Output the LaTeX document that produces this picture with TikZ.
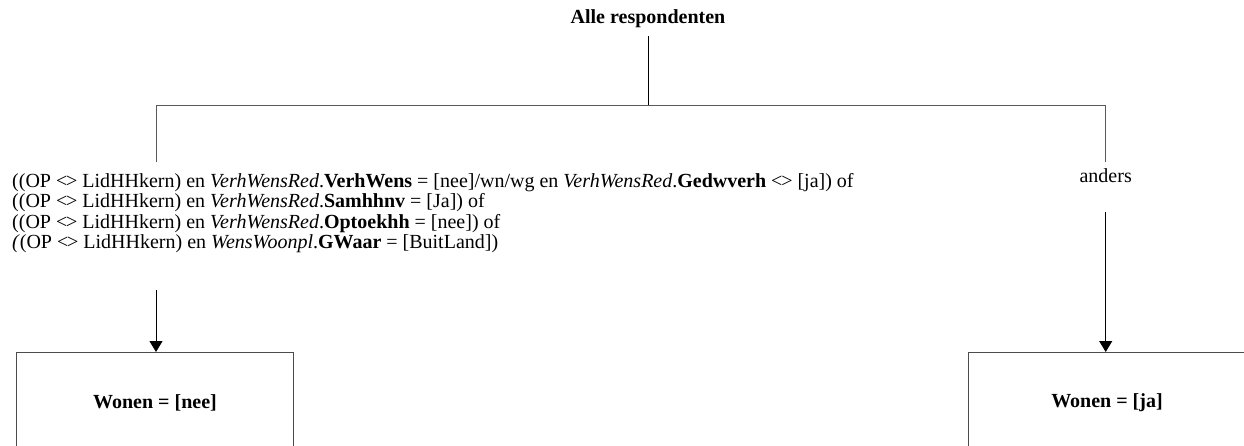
\documentclass[tikz,border=0pt]{standalone}
\usepackage{fontspec}
\setmainfont{Liberation Serif}
\usetikzlibrary{arrows.meta}
\newcommand{\dmd}{<\kern-0.06em>}
\begin{document}
\begin{tikzpicture}[x=1pt,y=-1pt,
  conn/.style={draw=black!65, line width=1pt},
  arr/.style={draw=black, line width=1pt, -{Triangle[width=13pt,length=11pt]}},
  boxnode/.style={draw=black!70, line width=1pt, minimum width=277pt, minimum height=100pt,
    font=\fontsize{20}{20}\selectfont\bfseries, inner sep=0pt},
  lbl/.style={font=\fontsize{20}{20}\selectfont, inner sep=0pt}]
\useasboundingbox (0,0) rectangle (1244,446);
\clip (0,0) rectangle (1244,446);

\node[lbl, font=\fontsize{20}{20}\selectfont\bfseries, anchor=base] (t) at (648,24) {Alle respondenten};

\coordinate (jm) at (648,105.7);
\coordinate (jl) at (156,105.7);
\coordinate (jr) at (1105.7,105.7);
\coordinate (ltop) at (156,162);
\coordinate (lbot) at (156,290);
\coordinate (rtop) at (1105.7,162);
\coordinate (rbot) at (1105.7,212);

\node[lbl, anchor=base west, align=left] (c) at (12,248) {%
((OP \dmd{} LidHHkern) en \textit{VerhWensRed}.\textbf{VerhWens} = [nee]/wn/wg en \textit{VerhWensRed}.\textbf{Gedwverh} \dmd{} [ja]) of\\
((OP \dmd{} LidHHkern) en \textit{VerhWensRed}.\textbf{Samhhnv} = [Ja]) of\\
((OP \dmd{} LidHHkern) en \textit{VerhWensRed}.\textbf{Optoekhh} = [nee]) of\\
\textit{(}(OP \dmd{} LidHHkern) en \textit{WensWoonpl}.\textbf{GWaar} = [BuitLand])};

\node[lbl, anchor=base] (a) at (1105.7,183) {anders};

\node[boxnode, anchor=north] (b1) at (155,352) {Wonen = [nee]};
\node[boxnode, anchor=north] (b2) at (1107,352) {Wonen = [ja]};

\draw[black, line width=1pt, shorten <=8pt] (t) -- (jm);
\draw[conn] (jl) -- (jr);
\draw[conn] (jl) -- (ltop);
\draw[conn] (jr) -- (rtop);
\draw[arr] (lbot) -- (lbot|-b1.north);
\draw[arr] (rbot) -- (rbot|-b2.north);
\end{tikzpicture}
\end{document}
